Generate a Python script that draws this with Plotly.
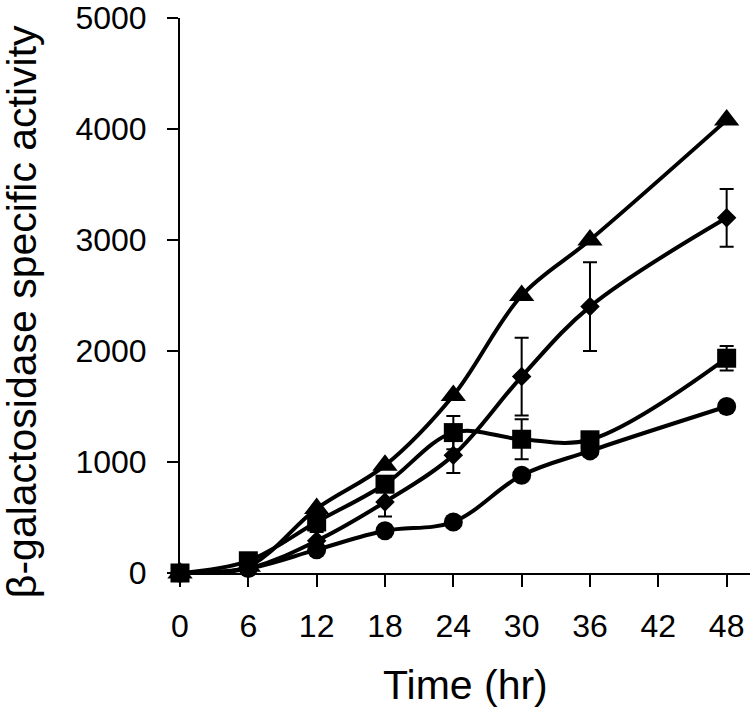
import plotly.graph_objects as go

time_hr = [0, 6, 12, 18, 24, 30, 36, 48]
triangle_vals = [0, 60, 580, 970, 1600, 2500, 3000, 4080]
diamond_vals = [0, 40, 290, 640, 1060, 1770, 2400, 3200]
diamond_err = [0, 0, 80, 130, 160, 350, 400, 260]
square_vals = [0, 110, 460, 800, 1265, 1205, 1200, 1935]
square_err = [0, 0, 0, 60, 150, 180, 50, 110]
circle_vals = [0, 40, 210, 380, 460, 880, 1100, 1500]
x_ticks = [0, 6, 12, 18, 24, 30, 36, 42, 48]
y_ticks = [0, 1000, 2000, 3000, 4000, 5000]

FONT = "Liberation Sans, Arial, sans-serif"

fig = go.Figure()

def add_series(y, symbol, size, err=None):
    kw = {}
    if err is not None:
        kw["error_y"] = dict(type="data", array=err, visible=True, color="black",
                             thickness=2, width=7)
    fig.add_trace(go.Scatter(
        x=time_hr, y=y, mode="lines+markers",
        line=dict(color="black", width=4, shape="spline", smoothing=1),
        marker=dict(symbol=symbol, size=size, color="black"),
        cliponaxis=False, showlegend=False, **kw))

add_series(circle_vals, "circle", 19)
add_series(square_vals, "square", 19, square_err)
add_series(diamond_vals, "diamond", 15, diamond_err)
add_series(triangle_vals, "triangle-up", 22)

fig.update_layout(
    width=750, height=711,
    margin=dict(l=180, r=0, t=13, b=138),
    paper_bgcolor="white", plot_bgcolor="white",
    font=dict(family=FONT, color="black"),
    xaxis=dict(range=[0, 50.05], tickvals=x_ticks, ticks="outside", ticklen=12,
               tickwidth=2, tickcolor="black", showline=True, linewidth=2,
               linecolor="black", showgrid=False, zeroline=False,
               tickfont=dict(size=32, family=FONT), ticklabelstandoff=12),
    yaxis=dict(range=[0, 5000], tickvals=y_ticks, ticks="outside", ticklen=11,
               tickwidth=2, tickcolor="black", showline=True, linewidth=2,
               linecolor="black", showgrid=False, zeroline=False,
               tickfont=dict(size=32, family=FONT), ticklabelstandoff=14,
               ticklabeloverflow="allow"),
    annotations=[
        dict(text="β-galactosidase specific activity", xref="paper", yref="paper",
             x=0, y=0.47, xshift=-158, xanchor="center", yanchor="middle",
             textangle=-90, showarrow=False, font=dict(size=41, family=FONT)),
        dict(text="Time (hr)", xref="paper", yref="paper", x=0.5, y=0,
             yshift=-112, xanchor="center", yanchor="middle", showarrow=False,
             font=dict(size=41, family=FONT)),
    ],
)

fig.write_html("out.html", config={"displayModeBar": False},
               post_script="document.body.style.margin='0';document.body.style.overflow='hidden';")
